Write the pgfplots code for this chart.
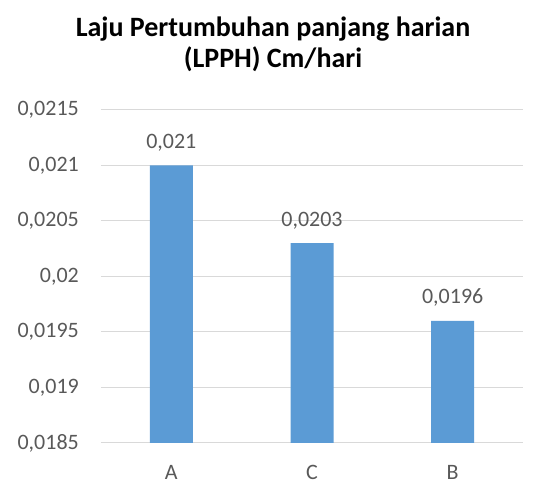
\documentclass[border=0pt]{standalone}
\usepackage{pgfplots}
\pgfplotsset{compat=1.18}
\usepackage{fontspec}
\setmainfont{Carlito}
\usetikzlibrary{calc}
\definecolor{barblue}{HTML}{5B9BD5}
\definecolor{gridgray}{HTML}{D9D9D9}
\definecolor{txtgray}{HTML}{595959}
\begin{document}
\begin{tikzpicture}
\begin{axis}[
  name=ax,
  scale only axis,
  width=422pt, height=333pt,
  xmin=-0.5, xmax=2.5,
  ymin=0.0185, ymax=0.0215,
  scaled y ticks=false,
  ytick={0.0185,0.019,0.0195,0.02,0.0205,0.021,0.0215},
  yticklabels={{0,0185},{0,019},{0,0195},{0,02},{0,0205},{0,021},{0,0215}},
  xtick={0,1,2},
  xticklabels={A,C,B},
  ymajorgrids,
  grid style={gridgray, line width=1pt},
  axis line style={draw=none},
  axis x line*=bottom,
  x axis line style={draw=gridgray, line width=1pt},
  major tick length=0pt,
  tick style={draw=none},
  every tick label/.append style={font=\fontsize{22}{26}\selectfont, text=txtgray, inner sep=0pt},
  yticklabel shift=22pt,
  xticklabel shift=22pt,
  ybar, bar width=43pt,
  nodes near coords,
  point meta=explicit symbolic,
  nodes near coords style={font=\fontsize{22}{26}\selectfont, text=txtgray, anchor=base, inner sep=0pt, yshift=17pt},
  clip=false,
]
\addplot[fill=barblue, draw=none] coordinates {(0,0.021) [0,021] (1,0.0203) [0,0203] (2,0.0196) [0,0196]};
\end{axis}
\node[anchor=base, font=\fontsize{28}{34}\selectfont\bfseries] at ($(ax.north)+(-39pt,73pt)$) {Laju Pertumbuhan panjang harian};
\node[anchor=base, font=\fontsize{28}{34}\selectfont\bfseries] at ($(ax.north)+(-39pt,42pt)$) {(LPPH) Cm/hari};
\pgfresetboundingbox
\path ($(ax.south west)+(-101pt,-41pt)$) rectangle ($(ax.north east)+(23pt,110pt)$);
\end{tikzpicture}
\end{document}
